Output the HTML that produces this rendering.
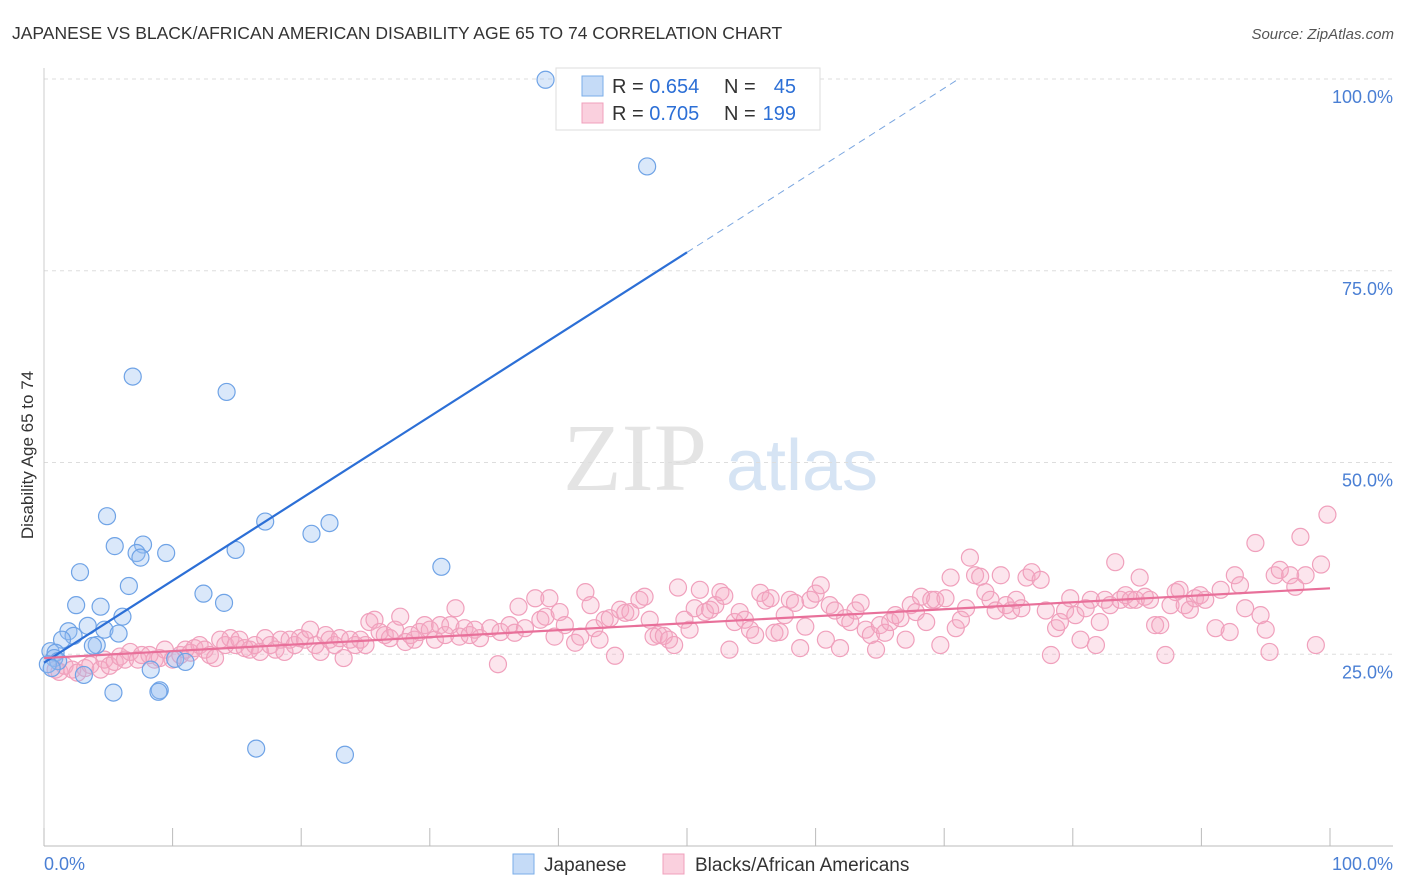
<!DOCTYPE html>
<html><head><meta charset="utf-8">
<style>
body{margin:0;background:#fff;font-family:"Liberation Sans",sans-serif;}
#wrap{position:relative;width:1406px;height:892px;overflow:hidden;}
</style></head>
<body>
<div id="wrap">
<svg id="chart" width="1406" height="892" xmlns="http://www.w3.org/2000/svg">
  <text x="12" y="39" font-size="17.5" fill="#333">JAPANESE VS BLACK/AFRICAN AMERICAN DISABILITY AGE 65 TO 74 CORRELATION CHART</text>
  <text x="1394" y="39" font-size="15" fill="#555" text-anchor="end" font-style="italic">Source: ZipAtlas.com</text>
  <text transform="translate(33,455) rotate(-90)" font-size="17" fill="#333" text-anchor="middle">Disability Age 65 to 74</text>
  <g>
    <text x="635" y="490" font-size="96" fill="#e4e4e4" font-family="Liberation Serif,serif" text-anchor="middle">ZIP</text>
    <text x="802" y="490" font-size="72" fill="#d6e4f4" text-anchor="middle">atlas</text>
  </g>
  <g id="grid"></g>
  <g id="axes"></g>
  <g id="pts"></g>
  <g id="trend"></g>
  <g>
    <rect x="556" y="68" width="264" height="62" fill="#fff" stroke="#ddd"/>
    <rect x="582" y="76" width="21" height="20" fill="rgba(150,190,240,0.55)" stroke="#7aaee8"/>
    <rect x="582" y="103" width="21" height="20" fill="rgba(245,170,195,0.55)" stroke="#f0a0bc"/>
    <text x="612" y="93" font-size="20" fill="#333">R = <tspan fill="#2c6fd6">0.654</tspan></text>
    <text x="724" y="93" font-size="20" fill="#333">N = </text><text x="796" y="93" font-size="20" fill="#2c6fd6" text-anchor="end">45</text>
    <text x="612" y="120" font-size="20" fill="#333">R = <tspan fill="#2c6fd6">0.705</tspan></text>
    <text x="724" y="120" font-size="20" fill="#333">N = </text><text x="796" y="120" font-size="20" fill="#2c6fd6" text-anchor="end">199</text>
  </g>
  <g>
    <rect x="513" y="854" width="21" height="20" fill="rgba(150,190,240,0.55)" stroke="#7aaee8"/>
    <text x="544" y="871" font-size="19" fill="#333">Japanese</text>
    <rect x="663" y="854" width="21" height="20" fill="rgba(245,170,195,0.55)" stroke="#f0a0bc"/>
    <text x="695" y="871" font-size="19" fill="#333">Blacks/African Americans</text>
  </g>
</svg>
</div>
<script>
const yTicks=[25,50,75,100];
const yTickLabels=["25.0%","50.0%","75.0%","100.0%"];
const xTickCount=[0,10,20,30,40,50,60,70,80,90,100];
const japanese=[[39.0,99.9],[46.9,88.6],[6.9,61.2],[14.2,59.2],[4.9,43.0],[17.2,42.3],[22.2,42.1],[20.8,40.7],[5.5,39.1],[7.7,39.3],[7.2,38.2],[9.5,38.2],[7.5,37.6],[14.9,38.6],[30.9,36.4],[2.8,35.7],[6.6,33.9],[12.4,32.9],[14.0,31.7],[2.5,31.4],[4.4,31.2],[6.1,29.9],[3.4,28.7],[4.7,28.2],[5.8,27.7],[1.9,28.0],[2.3,27.4],[1.4,26.9],[4.1,26.2],[3.8,26.1],[0.5,25.4],[0.9,25.2],[0.8,24.5],[1.1,24.1],[0.3,23.7],[0.6,23.2],[3.1,22.3],[8.3,23.0],[10.2,24.4],[11.0,24.0],[9.0,20.3],[8.9,20.1],[5.4,20.0],[16.5,12.7],[23.4,11.9]];
const black=[[0.9,23.0],[1.2,22.7],[1.6,23.5],[2.2,23.0],[2.6,22.6],[3.2,23.2],[3.6,23.6],[4.4,23.0],[4.7,24.3],[5.1,23.5],[5.5,24.0],[5.9,24.7],[6.3,24.3],[6.7,25.3],[7.3,24.3],[7.6,24.9],[8.2,24.9],[8.6,24.3],[9.0,24.5],[9.4,25.6],[10.0,24.3],[10.6,24.9],[11.0,25.6],[11.4,25.2],[11.7,25.8],[12.1,26.2],
[12.5,25.6],[12.9,24.9],[13.3,24.5],[13.7,26.9],[14.1,26.2],[14.5,27.1],[14.9,26.2],[15.2,26.9],[15.6,25.8],[16.0,25.6],[16.4,26.2],[16.8,25.3],[17.2,27.1],[17.6,26.2],[18.0,25.6],[18.4,26.9],[18.7,25.3],[19.1,26.9],[19.5,26.2],[19.9,27.1],[20.3,26.9],[20.7,28.2],[21.1,26.2],[21.5,25.3],[21.9,27.5],[22.2,26.9],[22.6,26.2],[23.0,27.1],[23.3,24.5],[23.8,26.9],[24.2,26.2],[24.6,26.9],[25.0,26.2],[25.3,29.2],[25.7,29.5],[26.1,27.9],[26.5,27.5],[26.9,27.1],[27.3,28.2],[27.7,29.9],[28.1,26.6],
[28.5,27.5],[28.8,26.9],[29.2,27.9],[29.6,28.8],[30.0,28.2],[30.4,26.9],[30.8,28.8],[31.2,27.5],[31.6,28.8],[32.0,31.0],[32.3,27.3],[32.7,28.4],[33.1,27.5],[33.5,28.2],[33.9,27.1],[34.7,28.4],[35.3,23.7],[35.5,27.9],[36.2,28.8],[36.6,27.8],[36.9,31.2],[37.4,28.4],[38.2,32.3],[38.6,29.5],[39.0,29.9],[39.3,32.3],[39.7,27.3],[40.1,30.5],[40.5,28.8],[41.3,26.5],[41.7,27.3],[42.1,33.1],[42.5,31.4],[42.8,28.4],[43.2,26.9],[43.6,29.5],[44.0,29.7],[44.4,24.8],[44.8,30.8],[45.2,30.4],[45.6,30.5],[46.3,32.1],[46.7,32.5],
[47.1,29.5],[47.4,27.3],[47.8,27.5],[48.2,27.4],[48.6,26.9],[49.0,26.2],[49.3,33.7],[49.8,29.5],[50.2,28.2],[50.6,31.0],[51.0,33.4],[51.4,30.5],[51.8,30.8],[52.2,31.4],[52.6,33.1],[52.9,32.6],[53.3,25.6],[53.7,29.2],[54.1,30.5],[54.5,29.5],[54.9,28.2],[55.3,27.5],[55.7,33.0],[56.1,32.0],[56.5,32.3],[56.8,27.8],[57.2,27.9],[57.6,30.1],[58.0,32.1],[58.4,31.7],[58.8,25.8],[59.2,28.6],[59.6,32.1],[60.0,32.9],[60.4,34.0],[60.8,26.9],[61.1,31.4],[61.5,30.7],[61.9,25.8],[62.3,29.7],[62.7,29.2],[63.1,30.7],[63.5,31.7],[63.9,28.2],[64.3,27.5],[64.7,25.6],[65.0,28.8],[65.4,27.8],[65.8,29.2],[66.2,30.1],[66.6,29.7],[67.0,26.9],[67.4,31.4],[67.8,30.5],[68.2,32.5],[68.6,29.2],[69.0,32.1],[69.3,32.1],[69.7,26.2],[70.1,32.3],[70.5,35.0],[70.9,28.4],[71.3,29.5],[71.7,31.0],[72.0,37.6],[72.4,35.3],[72.8,35.1],[73.2,33.1],[73.6,32.1],[74.0,30.7],[74.4,35.3],[74.8,31.4],[75.2,30.7],[75.6,32.1],[76.0,31.0],[76.4,35.0],[76.8,35.7],[77.5,34.7],[77.9,30.7],[78.3,24.9],[78.7,28.4],[79.0,29.2],[79.4,30.7],[79.8,32.3],[80.2,30.1],[80.6,26.9],[81.0,31.0],[81.4,32.1],[81.8,26.2],[82.1,29.2],[82.5,32.1],[82.9,31.4],[83.3,37.0],[83.7,32.1],[84.1,32.7],[84.5,32.1],[84.9,32.1],[85.2,35.0],[85.6,32.5],[86.0,32.1],[86.4,28.8],[86.8,28.8],[87.2,24.9],[87.6,31.4],[88.0,33.1],[88.3,33.4],[88.7,31.4],[89.1,30.8],[89.5,32.3],[89.9,32.7],[90.3,32.1],[91.1,28.4],[91.5,33.4],[92.2,27.9],[92.6,35.3],[93.0,34.0],[93.4,31.0],[94.2,39.5],[94.6,30.1],[95.0,28.2],[95.3,25.3],[95.7,35.3],[96.1,36.0],[96.9,35.3],[97.3,33.8],[97.7,40.3],[98.1,35.3],[98.9,26.2],[99.3,36.7],[99.8,43.2]];
const blueTrend=[23.9,1.07];
const pinkTrend=[24.5,0.091];

const NS="http://www.w3.org/2000/svg";
const X0=44,X1=1330,Y0=846,Y100=79;
const sx=v=>X0+(X1-X0)*v/100;
const sy=v=>Y0-(Y0-Y100)*v/100;
function mk(tag,attrs,parent){const e=document.createElementNS(NS,tag);for(const k in attrs)e.setAttribute(k,attrs[k]);parent.appendChild(e);return e;}
const grid=document.getElementById('grid'),axes=document.getElementById('axes'),pts=document.getElementById('pts'),trend=document.getElementById('trend');
yTicks.forEach((t,i)=>{
  const l=mk('line',{x1:X0,x2:1393,y1:sy(t),y2:sy(t),stroke:'#ddd','stroke-dasharray':'4,4'},grid);
  
  
  const tx=mk('text',{x:1393,y:sy(t)+24,'font-size':18,fill:'#4a7fd4','text-anchor':'end'},axes);
  tx.textContent=yTickLabels[i];
  
  
});
const xa=mk('line',{x1:X0,x2:1393,y1:Y0,y2:Y0,stroke:'#bbb'},axes);


const ya=mk('line',{x1:X0,x2:X0,y1:68,y2:Y0,stroke:'#ccc'},axes);


xTickCount.forEach(t=>{
  const l=mk('line',{x1:sx(t),x2:sx(t),y1:Y0,y2:Y0-18,stroke:'#bbb'},axes);
  
  
});
const xl0=mk('text',{x:44,y:870,'font-size':18,fill:'#4a7fd4'},axes);xl0.textContent='0.0%';


const xl1=mk('text',{x:1393,y:870,'font-size':18,fill:'#4a7fd4','text-anchor':'end'},axes);xl1.textContent='100.0%';



black.forEach(d=>{
  const c=mk('circle',{cx:sx(d[0]),cy:sy(d[1]),r:8.5,fill:'rgba(245,170,195,0.3)',stroke:'#f0a0bc','stroke-width':1.2},pts);
  
  
});
japanese.forEach(d=>{
  const c=mk('circle',{cx:sx(d[0]),cy:sy(d[1]),r:8.5,fill:'rgba(150,190,240,0.35)',stroke:'#6fa3e6','stroke-width':1.2},pts);
  
  
});
const bt=x=>blueTrend[0]+blueTrend[1]*x;
const xEnd=50, xMax=(100-blueTrend[0])/blueTrend[1];
const b1=mk('line',{x1:sx(0),y1:sy(bt(0)),x2:sx(xEnd),y2:sy(bt(xEnd)),stroke:'#2c6fd6','stroke-width':2.2},trend);


const b2=mk('line',{x1:sx(xEnd),y1:sy(bt(xEnd)),x2:sx(xMax),y2:sy(100),stroke:'#7aa6e0','stroke-width':1,'stroke-dasharray':'7,5'},trend);


const pt=x=>pinkTrend[0]+pinkTrend[1]*x;
const p1=mk('line',{x1:sx(0),y1:sy(pt(0)),x2:sx(100),y2:sy(pt(100)),stroke:'#e8709a','stroke-width':2.2},trend);


</script>
</body></html>
